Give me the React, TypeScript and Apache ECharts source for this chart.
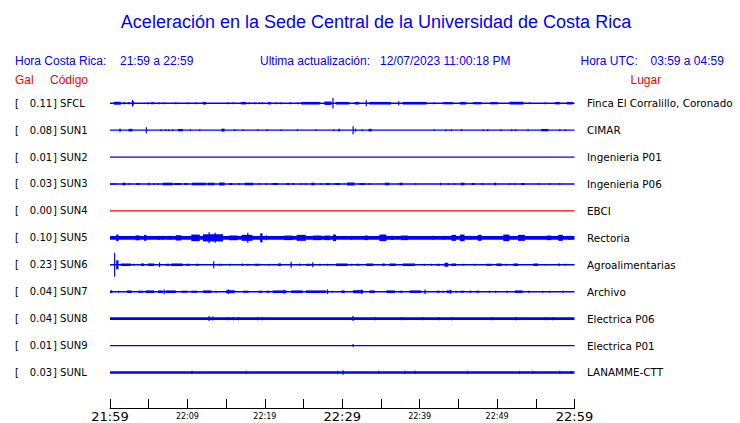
import React, { useEffect, useRef } from "react";
import * as echarts from "echarts";

// ---------- DATA ----------
const TITLE = "Aceleración en la Sede Central de la Universidad de Costa Rica";
const HORA_CR_LABEL = "Hora Costa Rica:";
const HORA_CR = "21:59 a 22:59";
const UPDATE_LABEL = "Ultima actualización:";
const UPDATE_TIME = "12/07/2023 11:00:18 PM";
const HORA_UTC_LABEL = "Hora UTC:";
const HORA_UTC = "03:59 a 04:59";

// minutes from start -> label
const TICK_MINUTES = [0, 10, 20, 30, 40, 50, 60];
const TICK_LABELS = ["21:59", "22:09", "22:19", "22:29", "22:39", "22:49", "22:59"];
const MAJOR_TICKS = [0, 30, 60];

const codes = ["SFCL", "SUN1", "SUN2", "SUN3", "SUN4", "SUN5", "SUN6", "SUN7", "SUN8", "SUN9", "SUNL"];
const gal = [0.11, 0.08, 0.01, 0.03, 0.0, 0.1, 0.23, 0.04, 0.04, 0.01, 0.03];
const places = [
  "Finca El Corralillo, Coronado",
  "CIMAR",
  "Ingenieria P01",
  "Ingenieria P06",
  "EBCI",
  "Rectoria",
  "Agroalimentarias",
  "Archivo",
  "Electrica P06",
  "Electrica P01",
  "LANAMME-CTT",
];
// background noise half-amplitude (relative units)
const noise = [0.8, 0.7, 0.6, 0.7, 0.6, 1.8, 0.7, 0.7, 1.4, 0.6, 1.3];

// bursts: [startMinute, endMinute, halfAmplitude]
const sfcl: number[][] = [
  [0.5, 1.4, 1.5], [1.7, 2.0, 1], [2.3, 2.6, 1], [2.9, 2.9, 3.3], [3.0, 3.1, 2.3],
  [4.8, 5.0, 1], [5.3, 5.7, 1], [6.3, 6.4, 1], [7.0, 7.0, 1], [8.5, 8.5, 1],
  [10.1, 10.2, 1], [11.1, 11.1, 1], [12.0, 12.4, 1.3], [15.2, 15.2, 1], [15.9, 15.9, 1],
  [16.9, 17.6, 1.2], [18.0, 18.0, 1], [18.7, 18.7, 1], [19.3, 19.3, 1], [19.7, 19.7, 1],
  [20.4, 20.8, 1.2], [21.5, 21.5, 1], [22.1, 22.1, 1], [23.2, 23.4, 1], [24.3, 24.3, 1],
  [24.7, 27.1, 1.3], [27.7, 28.6, 1.7], [28.8, 28.8, 5.3], [29.2, 30.9, 1.3], [31.6, 32.2, 1.3],
  [33.1, 33.1, 3], [33.5, 36.3, 1.3], [37.3, 37.3, 2], [37.8, 40.9, 1.3], [41.9, 41.9, 1],
  [43.0, 44.3, 1.1], [45.2, 46.0, 1.3], [46.9, 48.0, 1.1], [49.1, 50.1, 1.1], [51.6, 53.4, 1.4],
  [54.2, 54.2, 1], [56.2, 56.2, 1], [57.5, 58.1, 1.2], [59.0, 59.8, 1.2],
];
const sun1: number[][] = [
  [1.2, 1.4, 1.5], [2.4, 2.9, 1.3], [4.7, 4.7, 3], [6.6, 6.6, 1], [7.2, 7.2, 1], [7.6, 7.6, 1],
  [8.1, 8.1, 1], [8.8, 9.4, 1.2], [10.4, 10.4, 1], [11.6, 11.6, 1], [14.4, 14.8, 1.5],
  [16.1, 16.1, 1], [17.2, 17.2, 0.8], [19.1, 19.1, 0.8], [20.3, 20.3, 1], [22.1, 22.1, 0.8],
  [24.2, 24.2, 1], [26.6, 26.6, 0.8], [28.9, 28.9, 1], [29.5, 29.7, 1.3], [31.4, 31.4, 4],
  [31.7, 31.7, 1.5], [32.6, 32.6, 1], [33.4, 33.8, 1.3], [41.9, 41.9, 0.8], [43.4, 43.4, 1],
  [44.1, 44.1, 1], [45.4, 45.4, 1], [48.2, 48.2, 1], [48.8, 48.8, 1], [50.5, 50.5, 1],
  [51.9, 51.9, 1], [52.4, 52.4, 1], [54.0, 54.0, 1], [55.7, 56.6, 1.2], [58.1, 58.1, 1], [58.8, 58.8, 1],
];
const sun2: number[][] = [];
const sun3: number[][] = [
  [0.1, 0.1, 1], [0.4, 0.4, 1], [0.8, 0.8, 1], [1.6, 2.0, 1.3], [2.5, 2.5, 1], [3.4, 3.8, 1],
  [4.9, 5.1, 1.3], [5.7, 5.7, 1], [6.2, 6.2, 1], [6.8, 8.1, 1.3], [8.3, 9.2, 1], [9.6, 10.0, 1],
  [10.6, 12.4, 1.3], [12.6, 13.5, 1.3], [14.1, 14.8, 1.5], [15.4, 15.8, 1], [16.7, 16.7, 1],
  [17.4, 18.5, 1.3], [19.3, 19.3, 1], [20.2, 20.2, 1], [21.0, 21.7, 1], [22.8, 23.2, 1],
  [23.6, 23.8, 1], [24.7, 24.7, 1], [25.3, 25.3, 1], [26.0, 26.4, 1.3], [27.3, 27.3, 1],
  [27.9, 28.4, 1], [29.0, 29.0, 1], [29.2, 29.7, 1], [30.6, 31.6, 1.5], [32.2, 32.9, 1],
  [33.5, 33.5, 1], [35.5, 36.1, 1.3], [37.4, 37.8, 1.3], [39.5, 39.5, 1], [42.7, 42.7, 1.3],
  [43.7, 43.7, 1], [44.5, 44.5, 1], [45.3, 45.8, 1.3], [46.7, 47.1, 1], [48.0, 48.2, 1],
  [49.6, 49.9, 1.3], [51.6, 51.6, 1], [52.3, 52.3, 1], [53.1, 53.6, 1], [55.4, 55.4, 1],
  [56.8, 56.8, 1], [58.1, 58.1, 1],
];
const sun4: number[][] = [];
const sun5: number[][] = [
  [0.8, 1.1, 3.3], [3.3, 3.8, 2.5], [4.4, 4.7, 3], [6.2, 6.4, 2], [6.8, 6.8, 2], [7.7, 7.7, 2],
  [8.5, 9.2, 2.7], [10.5, 11.6, 3.3], [12.0, 14.6, 3.6], [12.8, 12.9, 5.5], [13.6, 13.7, 5],
  [15.4, 16.5, 2.3], [17.0, 18.4, 3], [17.8, 17.8, 5], [19.4, 19.7, 4.5], [20.2, 20.2, 2.5],
  [22.5, 23.6, 2.3], [24.1, 25.3, 3], [26.2, 27.3, 2.3], [27.7, 28.4, 2.3], [28.8, 29.2, 3.3],
  [31.2, 31.2, 2], [32.9, 33.3, 2.3], [34.8, 35.7, 3.3], [36.3, 36.6, 2], [37.6, 38.5, 2.3],
  [41.7, 41.7, 2], [43.2, 43.2, 2], [44.1, 44.7, 3], [45.2, 45.8, 3.3], [46.5, 46.5, 2],
  [47.5, 48.0, 3], [50.8, 51.6, 3.3], [52.7, 53.6, 3], [56.4, 57.0, 2.3], [57.9, 58.5, 3],
  [59.2, 59.6, 2],
];
const sun6: number[][] = [
  [0.6, 0.7, 12], [0.8, 1.1, 4.5], [1.4, 2.7, 1.3], [3.1, 3.1, 1], [4.0, 4.4, 1.3], [4.9, 5.7, 1.3],
  [6.4, 6.4, 2.3], [7.2, 7.7, 1], [7.9, 9.4, 1.3], [9.8, 10.3, 1], [11.1, 11.5, 1], [13.4, 13.4, 3.5],
  [14.1, 14.1, 1], [14.4, 14.4, 1], [15.5, 15.5, 1], [17.1, 17.1, 1.3], [17.8, 17.8, 1],
  [18.7, 19.3, 1], [20.6, 20.6, 1], [21.7, 22.1, 1.3], [23.4, 23.4, 3], [24.5, 24.5, 1.3],
  [25.3, 26.0, 1], [26.2, 26.2, 2.5], [27.1, 27.1, 1], [28.1, 28.1, 1], [29.2, 30.7, 1.3],
  [31.2, 31.2, 1], [31.8, 32.2, 1], [33.1, 34.0, 1.3], [35.2, 35.5, 1.3], [36.1, 36.9, 1.3],
  [37.8, 39.4, 1.3], [40.6, 40.6, 1], [41.5, 41.5, 1], [42.2, 42.6, 1], [43.2, 43.7, 2],
  [44.1, 44.7, 1.3], [45.7, 45.7, 1], [47.1, 47.1, 1], [48.6, 49.3, 1], [49.9, 50.6, 1.3],
  [51.2, 51.2, 1], [52.1, 52.7, 1.3], [54.7, 55.3, 1.3], [56.2, 56.2, 0.8], [57.9, 58.1, 1.3],
  [58.8, 58.8, 1],
];
const sun7: number[][] = [
  [0.0, 0.3, 1.3], [1.1, 1.1, 1], [2.2, 2.8, 1.3], [3.6, 4.3, 1], [4.6, 5.7, 1.3], [6.2, 6.8, 1.3],
  [7.0, 7.0, 2.3], [7.2, 8.5, 1.3], [9.2, 10.0, 1], [10.5, 11.3, 1], [12.0, 13.1, 1.3],
  [13.7, 13.7, 1], [15.0, 16.1, 1.5], [15.3, 15.3, 2.3], [17.2, 17.9, 1], [19.2, 19.7, 1],
  [20.2, 20.6, 1], [21.0, 22.8, 1.3], [22.5, 22.5, 2], [23.4, 24.9, 1.3], [25.3, 27.9, 1.3],
  [28.1, 28.1, 2.3], [28.7, 28.7, 1], [29.9, 30.3, 1.3], [31.4, 32.7, 1.5], [32.5, 32.5, 2.3],
  [33.5, 34.2, 1.3], [35.7, 36.8, 1.3], [37.4, 37.8, 1], [38.7, 40.2, 1.3], [40.7, 40.7, 2.3],
  [42.2, 42.6, 1], [43.0, 43.0, 1], [43.5, 44.1, 1.3], [44.0, 44.0, 2], [44.7, 44.7, 1],
  [45.3, 45.7, 1], [46.4, 46.7, 1], [47.3, 47.7, 1], [49.0, 49.0, 1], [49.7, 49.9, 1],
  [51.2, 51.4, 1], [52.3, 53.3, 1.3], [54.0, 54.2, 1], [55.9, 55.9, 1], [56.8, 56.8, 1],
  [58.4, 58.6, 1],
];
const sun8: number[][] = [
  [12.8, 12.8, 2.5], [13.3, 13.3, 2], [15.2, 15.2, 1.7], [15.9, 15.9, 1.7], [16.6, 16.6, 1.7],
  [19.1, 19.1, 1.7], [19.7, 19.7, 1.7], [31.4, 31.4, 2.5], [34.3, 34.3, 1.7], [37.7, 37.7, 1.7],
  [40.4, 40.4, 1.7], [42.5, 42.5, 1.7], [44.1, 44.1, 1.7], [49.3, 49.3, 1.7], [52.5, 52.5, 1.7],
  [56.4, 56.4, 1.7], [57.2, 57.2, 1.7],
];
const sun9: number[][] = [[31.4, 31.4, 1.5]];
const sunl: number[][] = [
  [10.6, 10.6, 1.6], [17.6, 17.6, 1.6], [29.4, 29.4, 1.6], [30.1, 30.1, 2.3], [34.7, 34.7, 1.6],
  [38.1, 38.1, 1.6], [39.4, 39.4, 1.6], [46.2, 46.2, 1.6], [52.9, 52.9, 1.6], [54.6, 54.6, 1.6],
  [58.1, 58.1, 1.6], [59.6, 59.6, 1.6],
];
const bursts = [sfcl, sun1, sun2, sun3, sun4, sun5, sun6, sun7, sun8, sun9, sunl];

// ---------- STYLE ----------
const BLUE = "#0000ff";
const RED = "#ff0000";
const traceColor = ["b", "b", "b", "b", "r", "b", "b", "b", "b", "b", "b"].map((c) => (c === "r" ? RED : BLUE));
const AMP_ROWS = 1 / 27; // one amplitude unit as a fraction of a row
const HEAD_FONT = "'Liberation Sans', Arial, sans-serif";
const BODY_FONT = "'DejaVu Sans', sans-serif";
const SPAN = 60;

export default function App() {
  const ref = useRef<HTMLDivElement>(null);

  useEffect(() => {
    if (!ref.current) return;
    const chart = echarts.init(ref.current, undefined, { renderer: "svg" });

    const data: number[][] = [];
    codes.forEach((_, i) => {
      data.push([0, SPAN, noise[i], i]);
      bursts[i].forEach((b) => data.push([b[0], b[1], b[2], i]));
    });

    const rowLabel = (v: number, left: boolean) => {
      const i = Math.round(v);
      if (Math.abs(v - i) > 1e-6 || i < 0 || i >= codes.length) return "";
      return left ? `{br|[}{num|${gal[i].toFixed(2)}}{rest|] ${codes[i]}}` : places[i];
    };

    const headText = (text: string, x: number, y: number, color: string, align = "left", size = 12) => ({
      type: "text",
      x,
      y,
      style: {
        text,
        fill: color,
        font: `${size}px ${HEAD_FONT}`,
        textAlign: align,
        textVerticalAlign: "middle",
      },
    });

    chart.setOption({
      animation: false,
      backgroundColor: "#ffffff",
      grid: { left: 110, right: 165.5, top: 76.3, bottom: 14 },
      xAxis: {
        type: "value",
        position: "bottom",
        min: 0,
        max: SPAN,
        interval: 5,
        splitLine: { show: false },
        axisLine: { onZero: false, lineStyle: { color: "#000", width: 1 } },
        axisTick: { inside: true, length: 9, lineStyle: { color: "#000", width: 1 } },
        axisLabel: {
          margin: 2,
          verticalAlign: "top",
          formatter: (v: number) => {
            const k = TICK_MINUTES.indexOf(Math.round(v));
            if (k < 0) return "";
            return MAJOR_TICKS.includes(TICK_MINUTES[k]) ? `{big|${TICK_LABELS[k]}}` : `{small|${TICK_LABELS[k]}}`;
          },
          rich: {
            big: { fontSize: 13, fontFamily: BODY_FONT, color: "#000" },
            small: { fontSize: 8, fontFamily: BODY_FONT, color: "#000", padding: [2, 0, 0, 0] },
          },
        },
      },
      yAxis: [
        {
          type: "value",
          inverse: true,
          min: -1,
          max: 11.32,
          interval: 1,
          position: "left",
          splitLine: { show: false },
          axisLine: { show: false },
          axisTick: { show: false },
          axisLabel: {
            showMaxLabel: false,
            margin: 95,
            align: "left",
            formatter: (v: number) => rowLabel(v, true),
            rich: {
              br: { width: 14, fontSize: 10, fontFamily: BODY_FONT, color: "#000" },
              num: { width: 24, align: "right", fontSize: 10, fontFamily: BODY_FONT, color: "#000" },
              rest: { fontSize: 10, fontFamily: BODY_FONT, color: "#000" },
            },
          },
        },
        {
          type: "value",
          inverse: true,
          min: -1,
          max: 11.32,
          interval: 1,
          position: "right",
          splitLine: { show: false },
          axisLine: { show: false },
          axisTick: { show: false },
          axisLabel: {
            showMaxLabel: false,
            margin: 12.5,
            align: "left",
            fontSize: 10.4,
            fontFamily: BODY_FONT,
            color: "#000",
            formatter: (v: number) => rowLabel(v, false),
          },
        },
      ],
      series: [
        {
          type: "custom",
          xAxisIndex: 0,
          yAxisIndex: 0,
          clip: false,
          encode: { x: [0, 1], y: 3 },
          data,
          renderItem: (params: any, api: any) => {
            const row = api.value(3);
            const p0 = api.coord([api.value(0), row]);
            const p1 = api.coord([api.value(1), row]);
            const h = Math.abs(api.size([0, api.value(2) * AMP_ROWS])[1]);
            const w = Math.max(p1[0] - p0[0], 1.2);
            const hh = Math.max(2 * h, 1.2);
            return {
              type: "rect",
              shape: { x: p0[0] - (p1[0] - p0[0] < 1.2 ? 0.6 : 0), y: p0[1] - hh / 2, width: w, height: hh },
              style: { fill: traceColor[row] },
            };
          },
        },
      ],
      graphic: [
        headText(TITLE, 376, 22, BLUE, "center", 18),
        headText(HORA_CR_LABEL, 15, 61, BLUE),
        headText(HORA_CR, 120, 61, BLUE),
        headText(UPDATE_LABEL, 260, 61, BLUE),
        headText(UPDATE_TIME, 380, 61, BLUE),
        headText(HORA_UTC_LABEL, 580.5, 61, BLUE),
        headText(HORA_UTC, 650.5, 61, BLUE),
        headText("Gal", 15, 80, RED),
        headText("Código", 50, 80, RED),
        headText("Lugar", 630.5, 80, RED),
      ],
    });

    return () => chart.dispose();
  }, []);

  return (
    <div
      ref={ref}
      style={{ position: "fixed", left: 0, top: 0, width: 740, height: 423, background: "#fff" }}
    />
  );
}
